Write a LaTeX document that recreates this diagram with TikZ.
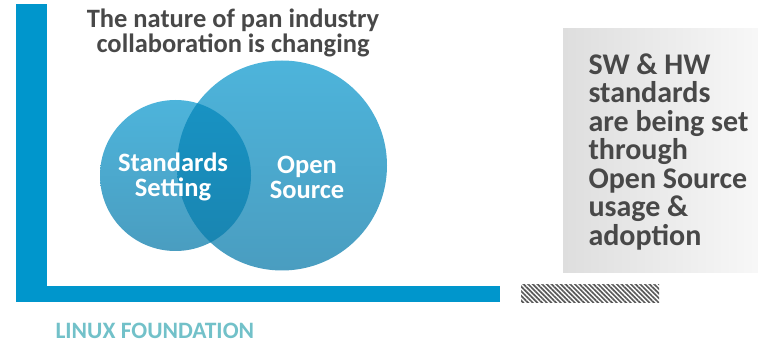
\documentclass[tikz,border=0pt]{standalone}
\usepackage{fontspec}
\setmainfont{Carlito}
\usetikzlibrary{patterns.meta}
\definecolor{lfblue}{HTML}{0096CC}
\definecolor{circtop}{HTML}{4DB4DB}
\definecolor{circbot}{HTML}{4A9DC0}
\definecolor{overtop}{HTML}{1896C8}
\definecolor{overbot}{HTML}{1983AE}
\definecolor{darktext}{HTML}{484848}
\definecolor{lftext}{HTML}{72C1C9}
\begin{document}
\begin{tikzpicture}[x=1pt,y=-1pt]
        \useasboundingbox (0,0) rectangle (758,344);
        % blue frame
        \fill[lfblue] (16,4) rectangle (47,302);
        \fill[lfblue] (16,286) rectangle (500,302);
        %
        \shade[top color=circtop,bottom color=circbot] (282,165.5) circle (105);
        \shade[top color=circtop,bottom color=circbot] (175.5,175.5) circle (75.5);
        \begin{scope}
        \clip (175.5,175.5) circle (75.5);
        \shade[top color=overtop,bottom color=overbot] (282,165.5) circle (105);
        \end{scope}
        %
        \node[font=\fontsize{26.5}{24.5}\selectfont\bfseries,text=darktext,align=center] (title) at (233,33) {The nature of pan industry\\collaboration is changing};
        \node[font=\fontsize{26.5}{25}\selectfont\bfseries,text=white,align=center] (std) at (173,177) {Standards\\Setting};
        \node[font=\fontsize{26.5}{25}\selectfont\bfseries,text=white,align=center] (os) at (307,177) {Open\\Source};
        %
        \shade[left color=black!13,right color=black!3] (563,29) rectangle (758,273);
        \node[font=\fontsize{30}{28.5}\selectfont\bfseries,text=darktext,align=left,anchor=north west] (claim) at (585,50) {SW \& HW\\standards\\are being set\\through\\Open Source\\usage \&\\adoption};
        %
        \fill[pattern={Lines[angle=-45,distance=3.3pt,line width=1.7pt]},pattern color=black!65] (521,285) rectangle (659,303);
        \node[font=\fontsize{23.5}{24}\selectfont\bfseries,text=lftext,anchor=west] (lf) at (52,331) {LINUX FOUNDATION};
        \end{tikzpicture}
\end{document}
